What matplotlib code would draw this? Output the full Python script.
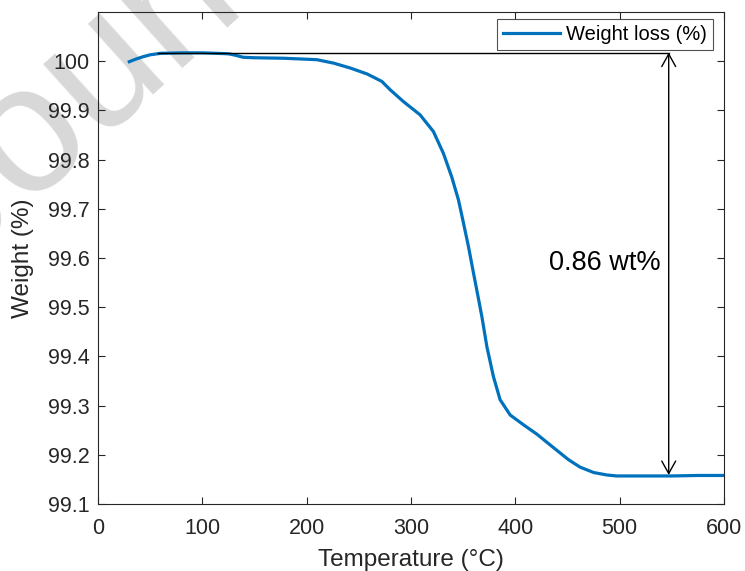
import matplotlib
matplotlib.use("Agg")
import matplotlib.pyplot as plt

temperature = [30, 36, 43, 50, 60, 80, 100, 114, 125, 132, 139, 150, 178, 200, 210, 226,
               242, 258, 272, 280, 292.7, 308.7, 321.5, 331, 339, 345.5, 350.3, 355.1,
               359.3, 363.5, 368, 372.7, 379, 385.4, 395, 407.8, 420.6, 433.4, 451, 462,
               475, 487.7, 497, 520, 550, 575, 600]
weight = [99.999, 100.004, 100.009, 100.013, 100.016, 100.017, 100.017, 100.016, 100.015,
          100.012, 100.008, 100.007, 100.006, 100.004, 100.003, 99.996,
          99.986, 99.974, 99.959, 99.942, 99.918, 99.891, 99.857, 99.813, 99.765, 99.718,
          99.671, 99.623, 99.576, 99.53, 99.48, 99.42, 99.359, 99.312, 99.281, 99.261,
          99.242, 99.22, 99.19, 99.175, 99.164, 99.159, 99.157, 99.157, 99.157, 99.158,
          99.158]

series_label = "Weight loss (%)"
x_label = "Temperature (°C)"
y_label = "Weight (%)"
x_ticks = [0, 100, 200, 300, 400, 500, 600]
y_ticks = [99.1, 99.2, 99.3, 99.4, 99.5, 99.6, 99.7, 99.8, 99.9, 100]
y_tick_labels = ["99.1", "99.2", "99.3", "99.4", "99.5", "99.6", "99.7", "99.8", "99.9", "100"]
ref_start_x = 57.5
ref_level = 100.0175
arrow_x = 547
arrow_bottom = 99.159
loss_text = "0.86 wt%"
watermark = "Journal Pre-proof"

plt.rcParams['font.family'] = ['Liberation Sans', 'DejaVu Sans']
dark = '#262626'

fig = plt.figure(figsize=(7.45, 5.71), dpi=100)
fig.patch.set_facecolor('white')
ax = fig.add_axes([98 / 745, 1 - 504 / 571, (724 - 98) / 745, (504 - 12) / 571])
ax.set_facecolor('none')

fig.text(-0.057, 0.5263, watermark, fontsize=130, color='#d8d8d8', rotation=42,
         rotation_mode='anchor', ha='left', va='baseline', zorder=-5)

ax.plot(temperature, weight, color='#0072BD', lw=2.3, label=series_label, zorder=3)

ax.plot([ref_start_x, arrow_x], [ref_level, ref_level], color='black', lw=1.0, zorder=4)
ax.annotate('', xy=(arrow_x, arrow_bottom), xytext=(arrow_x, ref_level),
            arrowprops=dict(arrowstyle='<->,head_length=0.9,head_width=0.5',
                            color='black', lw=1.0, shrinkA=0, shrinkB=0), zorder=4)
ax.annotate(loss_text, xy=(arrow_x, 99.59), xytext=(-6, 0), textcoords='offset points',
            fontsize=19.5, ha='right', va='center', color='black')

ax.set_xlim(0, 600)
ax.set_ylim(99.1, 100.1)
ax.set_xticks(x_ticks)
ax.set_yticks(y_ticks)
ax.set_yticklabels(y_tick_labels)
ax.tick_params(direction='in', length=5, width=0.8, top=True, right=True,
               labelsize=15.5, colors=dark)
ax.tick_params(axis='x', pad=10)
ax.tick_params(axis='y', pad=6)
for s in ax.spines.values():
    s.set_color(dark)
    s.set_linewidth(0.8)

ax.set_xlabel(x_label, fontsize=17.5, color=dark, labelpad=7)
ax.set_ylabel(y_label, fontsize=17.5, color=dark, labelpad=10)

leg = ax.legend(loc='upper right', bbox_to_anchor=(0.9824, 0.9858), fontsize=14.5,
                frameon=True, fancybox=False, borderpad=0.3, handlelength=2.85,
                handletextpad=0.3, borderaxespad=0)
leg.get_frame().set_edgecolor(dark)
leg.get_frame().set_linewidth(0.8)

fig.savefig('out.png', dpi=100)
